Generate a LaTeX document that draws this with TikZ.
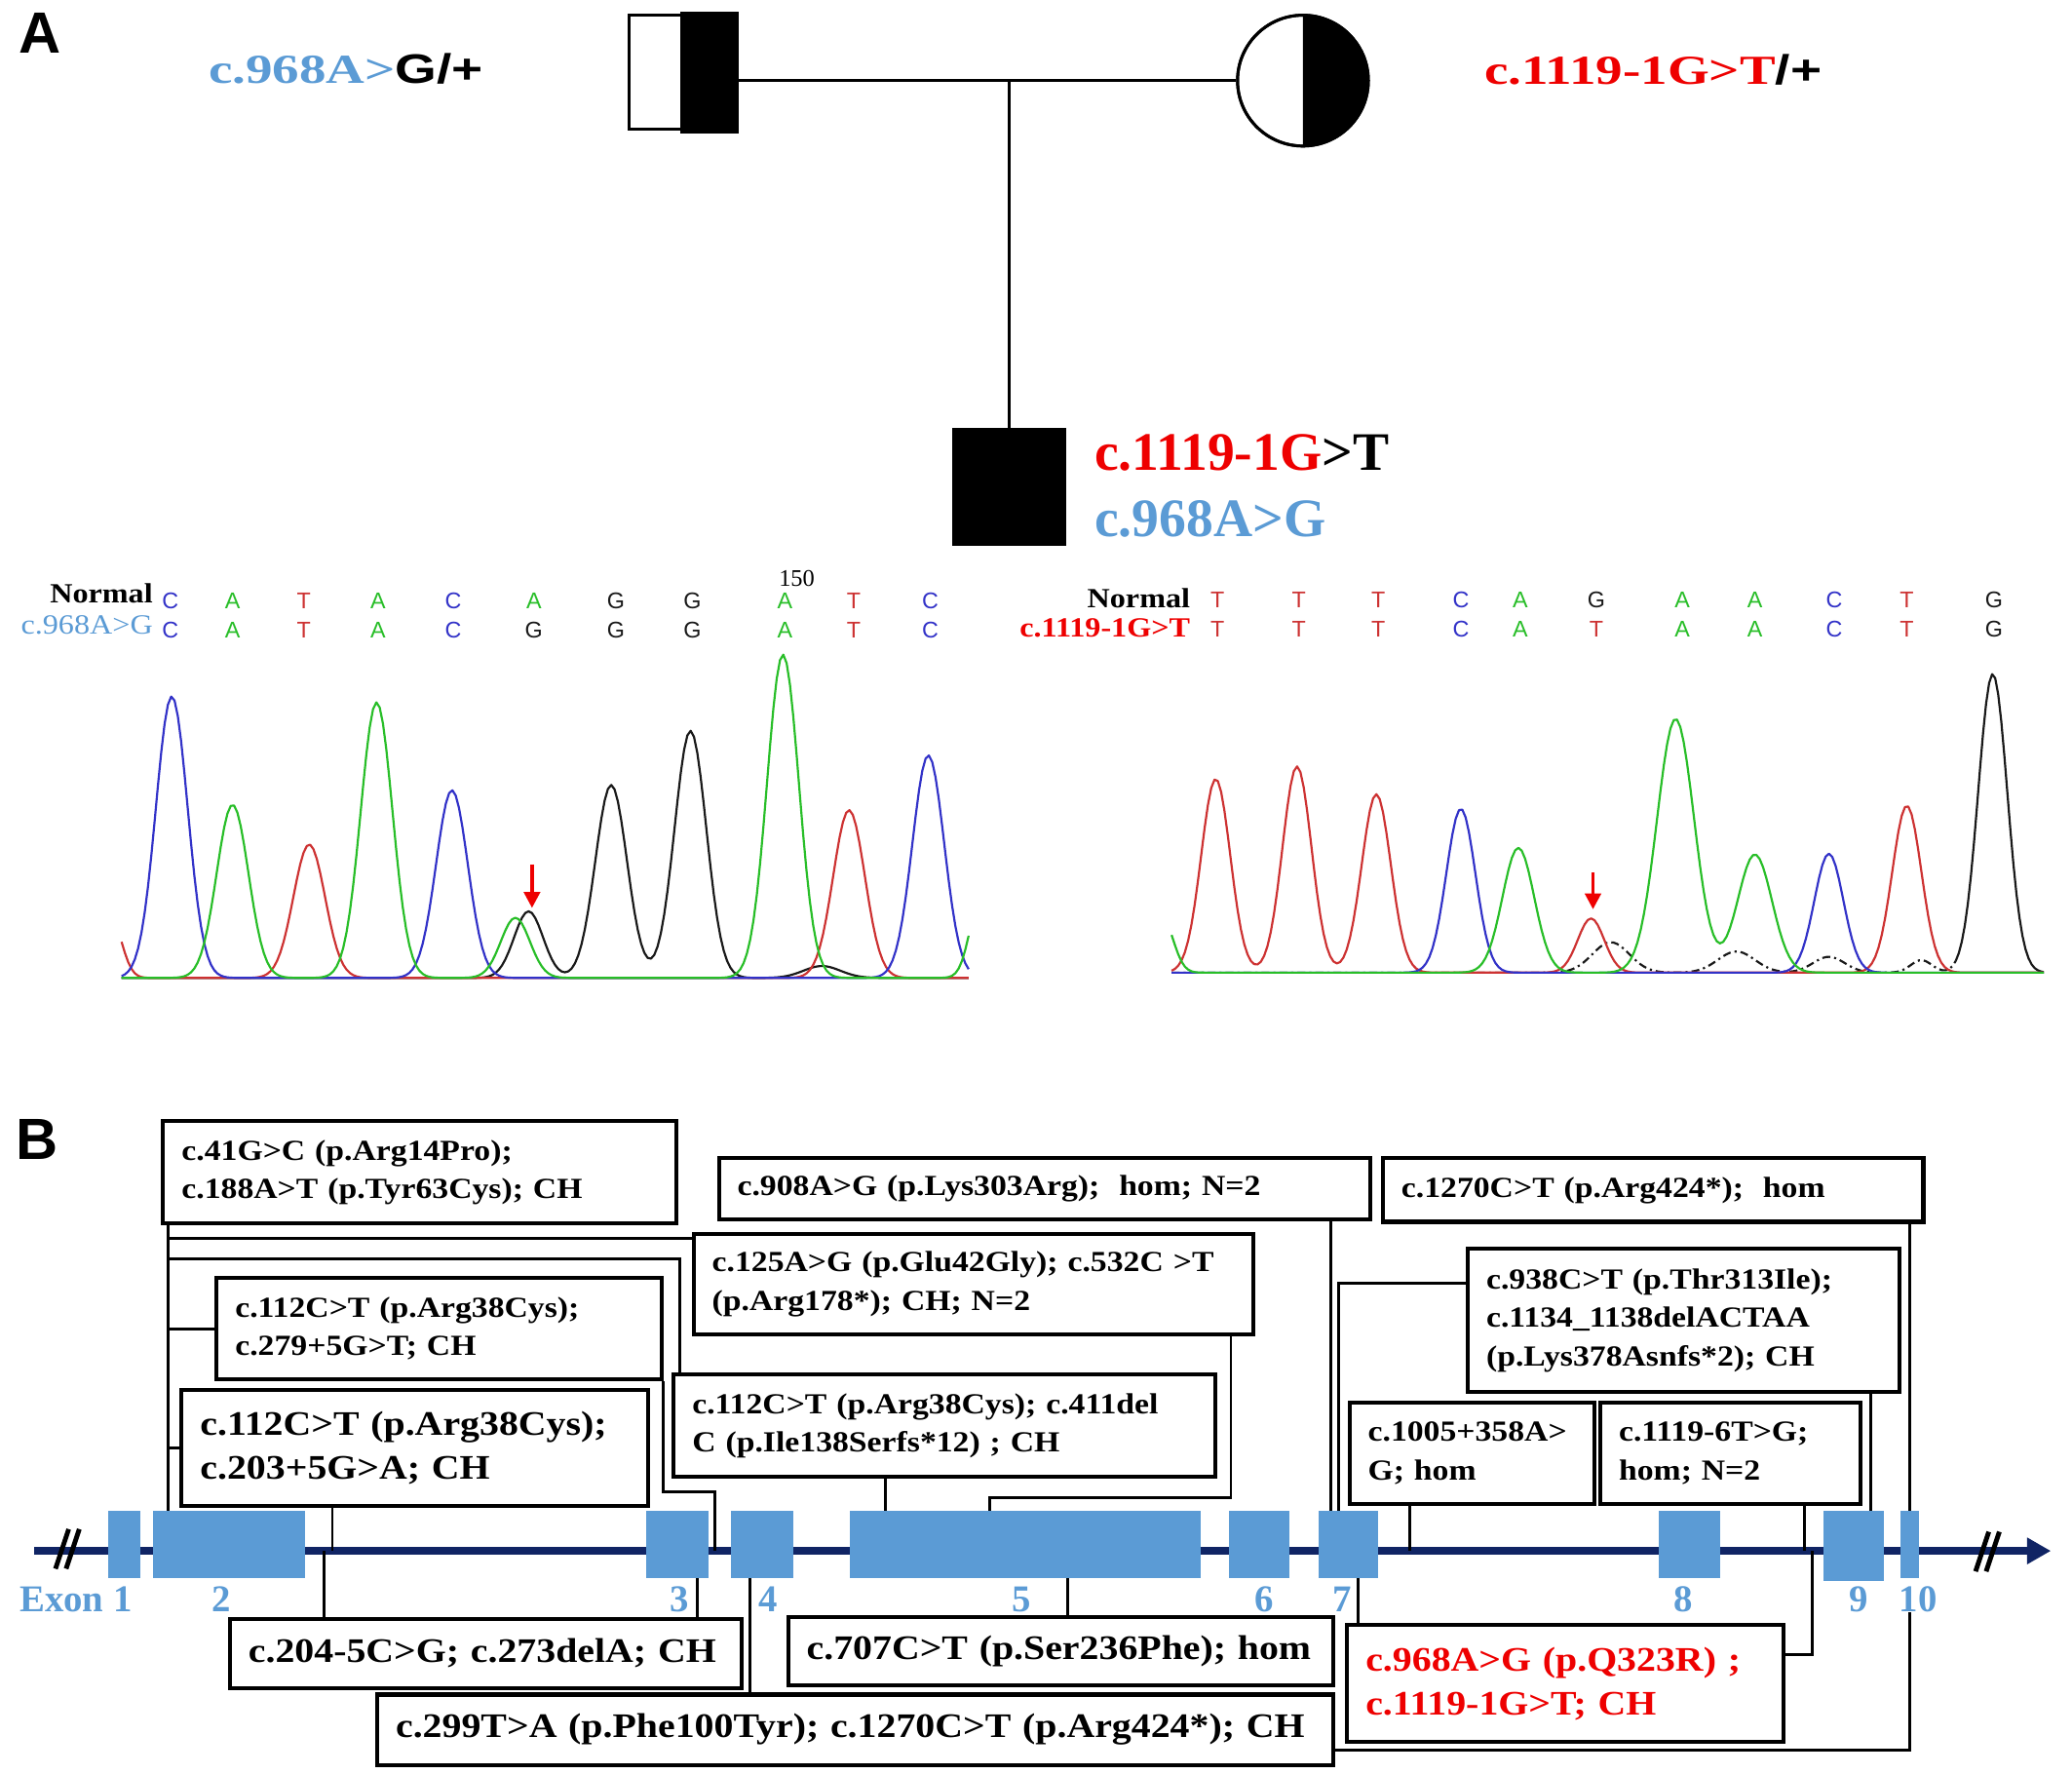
\documentclass[tikz,border=0pt]{standalone}
\usepackage{fontspec}
\setmainfont{Liberation Serif}
\newfontfamily\bxf[FakeStretch=1.13]{Liberation Serif}
\newfontfamily\pedfont[FakeStretch=1.3]{Liberation Serif}
\newfontfamily\pedsans[FakeStretch=1.3]{Liberation Sans}
\newfontfamily\ntfont{Liberation Sans}
\usetikzlibrary{arrows.meta}
\definecolor{lblue}{RGB}{91,155,213}
\definecolor{pred}{RGB}{238,0,0}
\definecolor{navy}{RGB}{16,36,100}
\definecolor{exfill}{RGB}{91,155,213}
\definecolor{tblue}{RGB}{50,50,200}
\definecolor{tgreen}{RGB}{40,190,40}
\definecolor{tred}{RGB}{205,50,50}
\definecolor{tblk}{RGB}{25,25,25}
\begin{document}
\begin{tikzpicture}[x=0.5pt,y=-0.5pt,
  declare function={pk(\xq,\cq,\hq,\sq)=\hq*exp(max(-0.5*((\xq-\cq)/\sq)*((\xq-\cq)/\sq),-9));},
  conn/.style={line width=1.1pt,black},
  pl/.style={line width=1.1pt,black},
  sbox/.style={draw,line width=1.5pt,fill=white,anchor=north west,align=left,inner xsep=7pt,inner ysep=0pt,
    font=\bxf\bfseries\fontsize{11}{14.5}\selectfont},
  lbox/.style={sbox,font=\bxf\bfseries\fontsize{13}{16.5}\selectfont},
  exon/.style={fill=exfill,draw=none,inner sep=0pt,outer sep=0pt,anchor=north west,minimum height=25.25pt},
  exlab/.style={inner sep=0pt,text=lblue,font=\bfseries\fontsize{14.3}{16}\selectfont},
  nt/.style={anchor=base,inner sep=0pt,font=\ntfont\fontsize{8.6}{10}\selectfont},
  tr/.style={line width=0.8pt,line join=round},
  plab/.style={inner sep=0pt,font=\ntfont\bfseries\fontsize{22}{24}\selectfont}]
\fill[white] (0,0) rectangle (1568,1342.3);
\useasboundingbox (0,0) rectangle (1568,1342.3);

% ---------------- Panel A: pedigree ----------------
\node[plab] (pA) at (30,25.3) {A};
\node[draw,fill=white,line width=1.1pt,minimum width=20.5pt,minimum height=43pt,inner sep=0pt] (fw) at (496.5,54.5) {};
\node[draw,fill=black,line width=1.1pt,minimum width=21pt,minimum height=45pt,inner sep=0pt] (fb) at (537,54.6) {};
\node[draw,fill=white,circle,line width=1.1pt,minimum size=49.5pt,inner sep=0pt] (mo) at (986,61) {};
\begin{scope}
  \clip (986,0) rectangle (1045,125);
  \fill[black] (mo.center) circle[radius=49.5];
\end{scope}
\draw[line width=1.1pt] (mo.center) circle[radius=49.5];
\node[draw,fill=black,line width=1.1pt,minimum width=42pt,minimum height=43.5pt,inner sep=0pt] (ch) at (764,368.5) {};
\draw[pl] (fb.east |- mo.west) -- (mo.west);
\draw[pl] (ch.north |- mo.west) -- (ch.north);

\node[anchor=base west,inner sep=0pt,font=\pedfont\bfseries\fontsize{15.6}{18}\selectfont] (ft) at (157.5,63)
  {\textcolor{lblue}{c.968A>}{\pedsans G/+}};
\node[anchor=base west,inner sep=0pt,font=\pedfont\bfseries\fontsize{15.6}{18}\selectfont] (mt) at (1123,64)
  {\textcolor{pred}{c.1119-1G>T}{\pedsans /+}};
\node[anchor=base west,inner sep=0pt,font=\bfseries\fontsize{20.5}{24}\selectfont] (ct1) at (828,356)
  {\textcolor{pred}{c.1119-1G}>T};
\node[anchor=base west,inner sep=0pt,font=\bfseries\fontsize{20.5}{24}\selectfont,text=lblue] (ct2) at (828,406)
  {c.968A>G};

% ---------------- Panel A: chromatograms ----------------
\node[anchor=base east,inner sep=0pt,font=\bxf\bfseries\fontsize{10.5}{12}\selectfont] (nl1) at (116,456) {Normal};
\node[anchor=base east,inner sep=0pt,font=\bxf\fontsize{10.5}{12}\selectfont,text=lblue] (ml1) at (116,479.5) {c.968A>G};
\node[anchor=base east,inner sep=0pt,font=\bxf\bfseries\fontsize{10.5}{12}\selectfont] (nl2) at (901,459.5) {Normal};
\node[anchor=base east,inner sep=0pt,font=\bxf\bfseries\fontsize{10.5}{12}\selectfont,text=pred] (ml2) at (901,482) {c.1119-1G>T};
\node[anchor=base,inner sep=0pt,font=\fontsize{9}{10}\selectfont] (n150) at (603,443.5) {150};

\foreach \xx/\ll/\cc [count=\i] in {129/C/tblue,176/A/tgreen,230/T/tred,286/A/tgreen,343/C/tblue,404/A/tgreen,466/G/tblk,524/G/tblk,594/A/tgreen,646/T/tred,704/C/tblue}
  \node[nt,text=\cc] (la\i) at (\xx,460.5) {\ll};
\foreach \xx/\ll/\cc [count=\i] in {129/C/tblue,176/A/tgreen,230/T/tred,286/A/tgreen,343/C/tblue,404/G/tblk,466/G/tblk,524/G/tblk,594/A/tgreen,646/T/tred,704/C/tblue}
  \node[nt,text=\cc] (lb\i) at (\xx,483) {\ll};
\foreach \xx/\ll/\cc [count=\i] in {921.4/T/tred,983/T/tred,1043/T/tred,1105.5/C/tblue,1150.5/A/tgreen,1208/G/tblk,1273/A/tgreen,1328/A/tgreen,1388/C/tblue,1443/T/tred,1509/G/tblk}
  \node[nt,text=\cc] (ra\i) at (\xx,459.7) {\ll};
\foreach \xx/\ll/\cc [count=\i] in {921.4/T/tred,983/T/tred,1043/T/tred,1105.5/C/tblue,1150.5/A/tgreen,1208/T/tred,1273/A/tgreen,1328/A/tgreen,1388/C/tblue,1443/T/tred,1509/G/tblk}
  \node[nt,text=\cc] (rb\i) at (\xx,482) {\ll};

% left traces
\draw[tr,tblk] plot[domain=92:733,samples=257] (\x,{740-pk(\x,400,50.4,11)-pk(\x,462.5,146,12)-pk(\x,522.5,187,12)-pk(\x,622,9,14)});
\draw[tr,tred] plot[domain=92:733,samples=257] (\x,{740-pk(\x,84,45,8)-pk(\x,234,101,12)-pk(\x,642.5,127,12)});
\draw[tr,tblue] plot[domain=92:733,samples=257] (\x,{740-pk(\x,130,213,12)-pk(\x,342,142,12)-pk(\x,702.5,168.4,12)});
\draw[tr,tgreen] plot[domain=92:733,samples=257] (\x,{740-pk(\x,176,131,12)-pk(\x,285,208.5,12)-pk(\x,390,45.5,11)-pk(\x,592.5,244.6,12)-pk(\x,742,60,8)});
% right traces
\draw[tr,tblk,dash pattern=on 3pt off 1.5pt on 0.8pt off 1.5pt] plot[domain=886.6:1480,samples=237] (\x,{736-pk(\x,1219,23,14)-pk(\x,1314,16,14)-pk(\x,1384,12,12)-pk(\x,1454,9.5,8)-pk(\x,1508,226,11)});
\draw[tr,tblk] plot[domain=1480:1546.6,samples=30] (\x,{736-pk(\x,1454,9.5,8)-pk(\x,1508,226,11)});
\draw[tr,tred] plot[domain=886.6:1546.6,samples=265] (\x,{736-pk(\x,920,146.5,11)-pk(\x,981.5,156,11)-pk(\x,1041.5,135,11)-pk(\x,1204,41,10)-pk(\x,1443,126.3,11)});
\draw[tr,tblue] plot[domain=886.6:1546.6,samples=265] (\x,{736-pk(\x,1105.5,124,11)-pk(\x,1384,90,11)});
\draw[tr,tgreen] plot[domain=886.6:1546.6,samples=265] (\x,{736-pk(\x,880,40,8)-pk(\x,1149,94.4,12)-pk(\x,1268,192,14)-pk(\x,1328,89.4,13)});

\coordinate (ar1s) at (402.6,654);
\coordinate (ar1e) at (402.6,687);
\coordinate (ar2s) at (1205.5,660);
\coordinate (ar2e) at (1205.5,688);
\draw[pred,line width=1.3pt,-{Triangle[length=6pt,width=6pt]}] (ar1s) -- (ar1e);
\draw[pred,line width=1.3pt,-{Triangle[length=6pt,width=6pt]}] (ar2s) -- (ar2e);

% ---------------- Panel B ----------------
\node[plab] (pB) at (28,862.4) {B};

\coordinate (L) at (127.5,0);
\coordinate (gl) at (0,1173.5);
\coordinate (gs) at (26,1173.5);
\coordinate (ge) at (1552,1173.5);
\draw[line width=3pt,navy,-{Triangle[length=9pt,width=9.5pt]}] (gs) -- (ge);

% exons
\node[exon,minimum width=12.25pt] (e1) at (81.5,1143.5) {};
\node[exon,minimum width=57.5pt] (e2) at (116,1143.5) {};
\node[exon,minimum width=23.5pt] (e3) at (489,1143.5) {};
\node[exon,minimum width=23.25pt] (e4) at (553.5,1143.5) {};
\node[exon,minimum width=132.65pt] (e5) at (643,1143.5) {};
\node[exon,minimum width=23.1pt] (e6) at (929.8,1143.5) {};
\node[exon,minimum width=22.25pt] (e7) at (998,1143.5) {};
\node[exon,minimum width=23pt] (e8) at (1255.5,1143.5) {};
\node[exon,minimum width=22.8pt,minimum height=26.25pt] (e9) at (1380,1143.5) {};
\node[exon,minimum width=7.25pt] (e10) at (1438,1143.5) {};

% break marks
\draw[line width=1.8pt] (42,1187) -- (52,1157) (50,1187) -- (60,1157);
\draw[line width=1.8pt] (1495,1189) -- (1505,1159) (1503,1189) -- (1513,1159);

% exon labels
\node[exlab] (n1) at (57.5,1210) {Exon 1};
\node[exlab] (n2) at (167.5,1210) {2};
\node[exlab] (n3) at (514,1210) {3};
\node[exlab] (n4) at (581,1210) {4};
\node[exlab] (n5) at (773,1210) {5};
\node[exlab] (n6) at (957,1210) {6};
\node[exlab] (n7) at (1016,1210) {7};
\node[exlab] (n8) at (1274,1210) {8};
\node[exlab] (n9) at (1406.5,1210) {9};
\node[exlab] (n10) at (1451.5,1210) {10};

% boxes
\node[sbox,text width=180pt,minimum height=38.5pt] (b41) at (122,847) {c.41G>C (p.Arg14Pro);\\c.188A>T (p.Tyr63Cys); CH};
\node[sbox,text width=232.5pt,minimum height=23pt] (b908) at (542.5,875) {c.908A>G (p.Lys303Arg);~ hom; N=2};
\node[sbox,text width=190.5pt,minimum height=24pt] (b1270h) at (1045,875) {c.1270C>T (p.Arg424*);~ hom};
\node[sbox,text width=197.7pt,minimum height=38.2pt] (b125) at (523.4,932) {c.125A>G (p.Glu42Gly); c.532C >T\\(p.Arg178*); CH; N=2};
\node[sbox,text width=154.25pt,minimum height=38.5pt] (b112a) at (162.5,965.4) {c.112C>T (p.Arg38Cys);\\c.279+5G>T; CH};
\node[lbox,text width=162.5pt,minimum height=44pt] (b112b) at (136,1050) {c.112C>T (p.Arg38Cys);\\c.203+5G>A; CH};
\node[sbox,text width=191pt,minimum height=38.65pt] (b411) at (508.4,1038.7) {c.112C>T (p.Arg38Cys); c.411del\\C (p.Ile138Serfs*12) ; CH};
\node[sbox,text width=149.35pt,minimum height=54.1pt] (b938) at (1109.3,943.5) {c.938C>T (p.Thr313Ile);\\c.1134\_1138delACTAA\\(p.Lys378Asnfs*2); CH};
\node[sbox,text width=78.65pt,minimum height=38.15pt] (b1005) at (1019.7,1060) {c.1005+358A>\\G; hom};
\node[sbox,text width=84.45pt,minimum height=38.15pt] (b1119) at (1209.6,1060) {c.1119-6T>G;\\hom; N=2};
\node[lbox,text width=179.75pt,minimum height=26.15pt] (b204) at (172.5,1223.4) {c.204-5C>G; c.273delA; CH};
\node[lbox,text width=192.4pt,minimum height=25.85pt] (b707) at (594.9,1221.8) {c.707C>T (p.Ser236Phe); hom};
\node[lbox,text width=347.85pt,minimum height=26.65pt] (b299) at (284,1280.7) {c.299T>A (p.Phe100Tyr); c.1270C>T (p.Arg424*); CH};
\node[lbox,text width=151pt,minimum height=44.45pt,text=pred] (b968) at (1018,1227.9) {c.968A>G (p.Q323R) ;\\c.1119-1G>T; CH};

% connectors
\draw[conn] (b41.south -| L) -- (e2.north -| L);
\draw[conn] (b125.west |- 0,937) -- (L |- 0,937);
\draw[conn] (b411.north -| 514.5,0) |- (L |- 0,952.6);
\draw[conn] (b112a.west) -- (L |- b112a.west);
\draw[conn] (b112b.west) -- (L |- b112b.west);
\draw[conn] (b411.south -| 670,0) -- (e5.north -| 670,0);
\draw[conn] (b125.south -| 931.5,0) |- (749,1133) -- (e5.north -| 749,0);
\draw[conn] (b112a.south east) |- (541,1128.5) -- (541,0 |- gl);
\draw[conn] (b112b.south -| 251.5,0) -- (251.5,0 |- gl);
\draw[conn] (b204.north -| 245,0) -- (245,0 |- gl);
\draw[conn] (b204.north -| 527.5,0) -- (e3.south -| 527.5,0);
\draw[conn] (b299.north -| 567.5,0) -- (e4.south -| 567.5,0);
\draw[conn] (b299.east |- 0,1324) -| (n10.south -| 1445,0);
\draw[conn] (b707.north -| 807.6,0) -- (e5.south -| 807.6,0);
\draw[conn] (b908.south -| 1007.3,0) -- (e7.north -| 1007.3,0);
\draw[conn] (b938.west |- 0,970.6) -| (e7.north -| 1013,0);
\draw[conn] (b938.south -| 1415.8,0) -- (e9.north -| 1415.8,0);
\draw[conn] (b1005.south -| 1066.8,0) -- (1066.8,0 |- gl);
\draw[conn] (b1119.south -| 1365.4,0) -- (1365.4,0 |- gl);
\draw[conn] (b1270h.south -| 1445.5,0) -- (e10.north -| 1445.5,0);
\draw[conn] (b968.north -| 1028,0) -- (e7.south -| 1028,0);
\draw[conn] (b968.east |- 0,1252) -| (1371.5,0 |- gl);
\end{tikzpicture}
\end{document}
